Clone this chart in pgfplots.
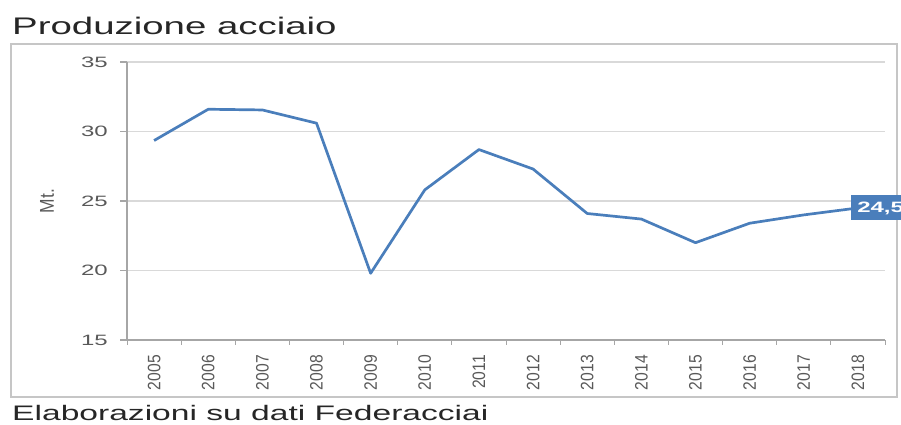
\documentclass[border=0pt]{standalone}
\usepackage{fontspec}
\setmainfont{Liberation Sans}
\newfontfamily\widefont[FakeStretch=1.6]{Liberation Sans}
\newfontfamily\yearfont[FakeStretch=0.87]{Liberation Sans}
\usepackage{pgfplots}
\pgfplotsset{compat=1.18}
\definecolor{lineblue}{RGB}{74,126,187}
\definecolor{gridgray}{RGB}{217,217,217}
\definecolor{axisgray}{RGB}{166,166,166}
\definecolor{textgray}{RGB}{89,89,89}

\begin{document}
\begin{tikzpicture}[x=1pt,y=1pt]
% outer frame and texts
\draw[draw=gray!45, line width=1.8pt] (11,28) rectangle (897,381);
\node[anchor=base west, inner sep=0pt, text=black!85] at (12,390)
  {\widefont\fontsize{24}{24}\selectfont Produzione acciaio};
\node[anchor=base west, inner sep=0pt, text=black!85] at (12,4)
  {\widefont\fontsize{21}{21}\selectfont Elaborazioni su dati Federacciai};
\begin{axis}[
  at={(127pt,85pt)}, anchor=south west,
  width=758pt, height=278pt, scale only axis,
  clip=false,
  xmin=0.5, xmax=14.5, ymin=15, ymax=35,
  ytick={15,20,...,35},
  xtick={1,...,14},
  xticklabels={2005,2006,2007,2008,2009,2010,2011,2012,2013,2014,2015,2016,2017,2018},
  minor xtick={0.5,1.5,...,14.5},
  axis x line*=bottom, axis y line*=left,
  axis line style={-, draw=axisgray, line width=1.2pt},
  tick align=outside,
  major tick length=7pt, minor tick length=5pt,
  major x tick style={draw=none},
  minor x tick style={draw=axisgray, line width=1pt},
  major y tick style={draw=axisgray, line width=1.2pt},
  ymajorgrids,
  grid style={gridgray, line width=1.2pt},
  /pgf/number format/assume math mode=true,
  yticklabel style={font=\widefont\fontsize{15}{15}\selectfont, text=textgray, inner sep=0pt, xshift=-12pt},
  xticklabel style={font=\yearfont\fontsize{18}{18}\selectfont, text=textgray, inner sep=0pt, yshift=-8pt, rotate=90, anchor=east},
  ylabel={Mt.},
  ylabel style={font=\yearfont\fontsize{20}{20}\selectfont, text=textgray, at={(axis description cs:-0.1055,0.5)}, anchor=center},
]
\addplot[lineblue, line width=2.7pt, line join=round, mark=none] coordinates {
  (1,29.35) (2,31.6) (3,31.55) (4,30.6) (5,19.8) (6,25.8) (7,28.7)
  (8,27.3) (9,24.1) (10,23.7) (11,22.0) (12,23.4) (13,24.0) (14,24.5)
} node[pos=1, anchor=west, xshift=-8pt, fill=lineblue, text=white, inner xsep=6pt, minimum height=25pt,
  font=\widefont\bfseries\fontsize{15}{15}\selectfont] {24,5};
\end{axis}
\pgfresetboundingbox
\useasboundingbox (0,0) rectangle (901,425);
\end{tikzpicture}
\end{document}
